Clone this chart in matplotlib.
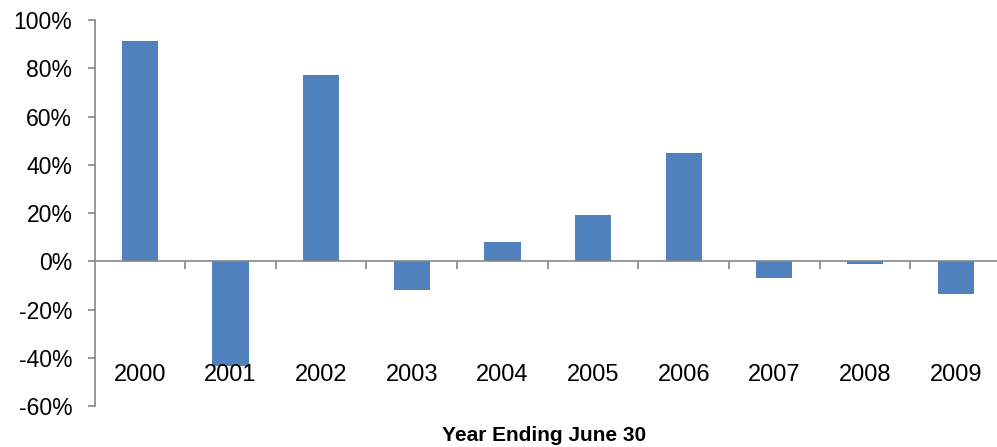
import matplotlib
matplotlib.use("Agg")
import matplotlib.pyplot as plt
from matplotlib.ticker import FuncFormatter
import numpy as np

years = ["2000", "2001", "2002", "2003", "2004", "2005", "2006", "2007", "2008", "2009"]
returns = [91.3, -43.4, 77.2, -12.0, 7.8, 19.4, 44.9, -7.1, -1.2, -13.7]
y_ticks = [-60, -40, -20, 0, 20, 40, 60, 80, 100]

plt.rcParams['font.family'] = ['Liberation Sans', 'DejaVu Sans']

fig = plt.figure(figsize=(9.97, 4.47), dpi=100)
ax = fig.add_axes([0.0948, 0.0917, 1.0 - 0.0948 + 0.004, 0.955 - 0.0917])

x = np.arange(len(years))
ax.bar(x, returns, width=0.4, color="#4F81BD", zorder=2)

ax.set_xlim(-0.5, len(years) - 0.5)
ax.set_ylim(-60, 100)
ax.set_yticks(y_ticks)
ax.yaxis.set_major_formatter(FuncFormatter(lambda v, p: f"{int(v)}%"))

grey = "#868686"
for s in ["top", "right"]:
    ax.spines[s].set_visible(False)
ax.spines["left"].set_color(grey)
ax.spines["left"].set_linewidth(1.2)
ax.spines["bottom"].set_position(("data", 0))
ax.spines["bottom"].set_color(grey)
ax.spines["bottom"].set_linewidth(1.2)
ax.spines["bottom"].set_zorder(3)

ax.tick_params(axis="y", direction="out", length=5, color=grey, width=1.2,
               labelsize=16.5, pad=11)
ax.set_xticks(np.arange(0.5, len(years) - 0.5, 1.0))
ax.set_xticklabels([])
ax.tick_params(axis="x", direction="out", length=6, color=grey, width=1.2)

for xi, lab in zip(x, years):
    ax.text(xi, -47.3, lab, ha="center", va="center", fontsize=17)

fig.text(0.546, 0.025, "Year Ending June 30", ha="center", va="center",
         fontsize=15, fontweight="bold")

fig.savefig("out.png", dpi=100)
